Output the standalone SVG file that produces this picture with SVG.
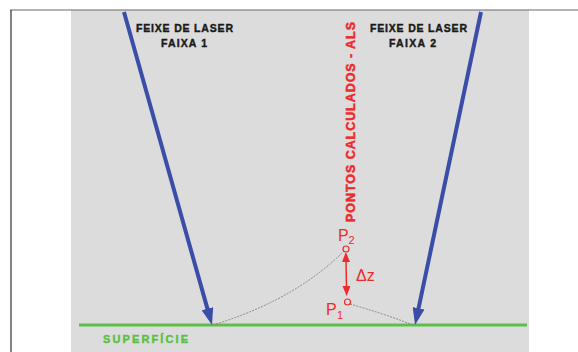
<svg xmlns="http://www.w3.org/2000/svg" width="578" height="352" viewBox="0 0 578 352">
<style>
.hd{font-family:"Liberation Sans",Arial,sans-serif;font-weight:bold;font-size:10.5px;fill:#1a1a1a;stroke:#1a1a1a;stroke-width:0.4}
.pl{font-family:"Liberation Sans",Arial,sans-serif;font-size:16px;fill:#ee2a2a}
.sub{font-family:"Liberation Sans",Arial,sans-serif;font-size:11px;fill:#ee2a2a}
.beam{stroke:#3a4ea8;stroke-width:4;fill:none}
.dash{stroke:#8a8a8a;stroke-width:1;fill:none;stroke-dasharray:2 1.2}
.pt{fill:#dcdcdc;stroke:#ee2a2a;stroke-width:1.2}
</style>
<defs>
<marker id="blueHead" markerUnits="userSpaceOnUse" markerWidth="17" markerHeight="12" viewBox="0 0 17 12" refX="7" refY="6" orient="auto">
<path d="M0,0 L17,6 L0,12 Z" fill="#3a4ea8"/>
</marker>
<marker id="redHead" markerUnits="userSpaceOnUse" markerWidth="10" markerHeight="8" viewBox="0 0 10 8" refX="1" refY="4" orient="auto-start-reverse">
<path d="M0,0 L10,4 L0,8 Z" fill="#ee2a2a"/>
</marker>
</defs>
<rect x="0" y="0" width="578" height="352" fill="#ffffff"/>
<rect x="71" y="10" width="458" height="342" fill="#dcdcdc"/>
<line x1="10" y1="10" x2="578" y2="10" stroke="#6a6a6a" stroke-width="1.2"/>
<line x1="11" y1="10" x2="11" y2="352" stroke="#333" stroke-width="1.2"/>

<g id="surface">
<line x1="79" y1="325" x2="527" y2="325" stroke="#5cbf46" stroke-width="3"/>
<text x="103" y="343" font-family="'Liberation Sans',Arial,sans-serif" font-weight="bold" font-size="11" fill="#5cbf46" stroke="#5cbf46" stroke-width="0.4" textLength="85" lengthAdjust="spacing">SUPERFÍCIE</text>
</g>

<g id="beam1">
<line class="beam" x1="124" y1="12" x2="209.3" y2="315.4" marker-end="url(#blueHead)"/>
<text class="hd" x="136" y="32" textLength="97" lengthAdjust="spacing">FEIXE DE LASER</text>
<text class="hd" x="161" y="47" textLength="46" lengthAdjust="spacing">FAIXA 1</text>
</g>

<g id="beam2">
<line class="beam" x1="481" y1="12" x2="417.1" y2="315.2" marker-end="url(#blueHead)"/>
<text class="hd" x="370" y="32" textLength="97" lengthAdjust="spacing">FEIXE DE LASER</text>
<text class="hd" x="389" y="47" textLength="47" lengthAdjust="spacing">FAIXA 2</text>
</g>

<g id="als-label">
<text transform="translate(355,222) rotate(-90)" x="0" y="0" font-family="'Liberation Sans',Arial,sans-serif" font-weight="bold" font-size="12.5" fill="#ee2a2a" stroke="#ee2a2a" stroke-width="0.5" textLength="200" lengthAdjust="spacing">PONTOS CALCULADOS - ALS</text>
</g>

<g id="connectors">
<path class="dash" d="M213,325 Q295,300 344,251"/>
<path class="dash" d="M350,304 Q385,314 413,325"/>
<line x1="346" y1="261" x2="346.5" y2="287" stroke="#ee2a2a" stroke-width="1.5" marker-start="url(#redHead)" marker-end="url(#redHead)"/>
</g>

<g id="P2">
<circle class="pt" cx="346" cy="249" r="3"/>
<text class="pl" x="338" y="240.5">P</text>
<text class="sub" x="348.5" y="244">2</text>
</g>

<g id="P1">
<circle class="pt" cx="347.5" cy="302" r="3"/>
<text class="pl" x="326" y="315">P</text>
<text class="sub" x="337" y="318.5">1</text>
</g>

<g id="dz">
<text class="pl" x="356" y="281">Δz</text>
</g>
</svg>
